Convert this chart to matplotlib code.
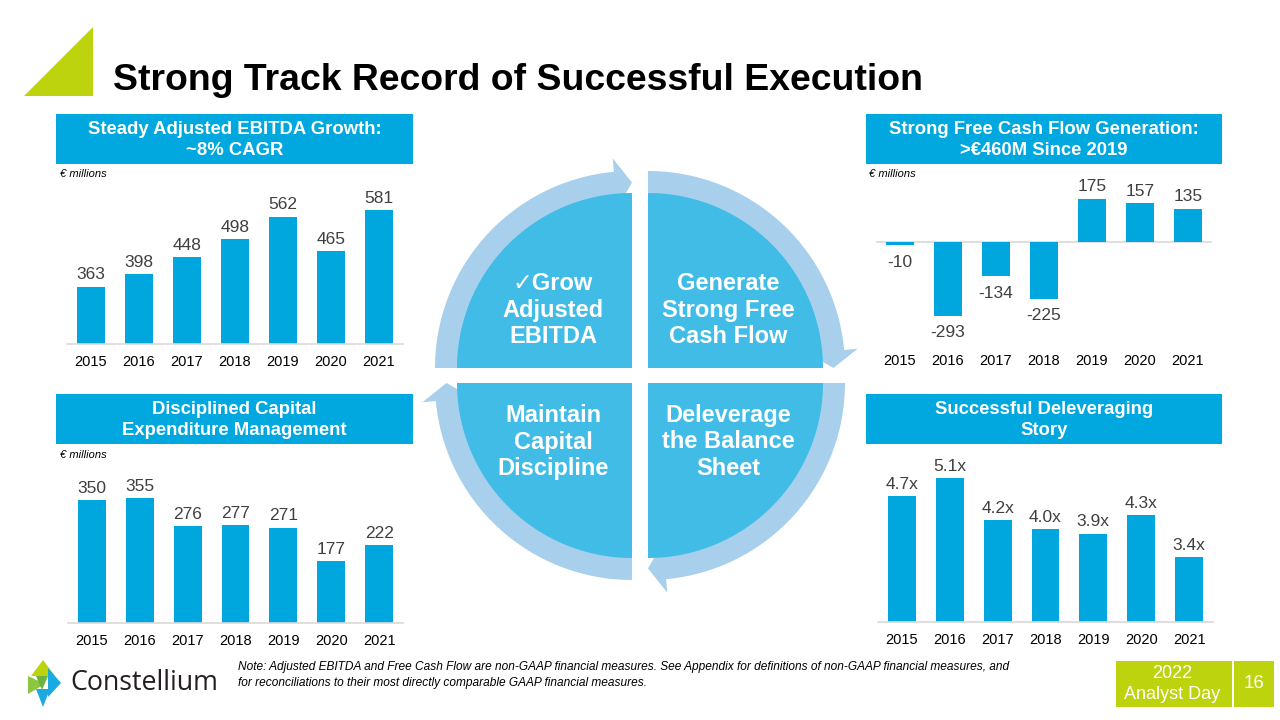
import numpy as np
import matplotlib
matplotlib.use("Agg")
import matplotlib.pyplot as plt
from matplotlib.patches import Polygon, Rectangle

plt.rcParams['font.family'] = ['Liberation Sans', 'DejaVu Sans']

# data
years = ['2015', '2016', '2017', '2018', '2019', '2020', '2021']
ebitda = [363, 398, 448, 498, 562, 465, 581]
fcf = [-10, -293, -134, -225, 175, 157, 135]
capex = [350, 355, 276, 277, 271, 177, 222]
leverage = [4.7, 5.1, 4.2, 4.0, 3.9, 4.3, 3.4]

BLUE = '#00A6DE'
HEAD = '#00A8DF'
QUAD = '#41BCE6'
RING = '#A8CFEC'
LIME = '#BCD30E'
GRAY = '#404040'

W, H = 1280, 720
fig = plt.figure(figsize=(12.8, 7.2), dpi=100)

# background axes in pixel coordinates (y down)
bg = fig.add_axes([0, 0, 1, 1])
bg.set_xlim(0, W)
bg.set_ylim(H, 0)
bg.axis('off')


def px_axes(l, t, r, b):
    return fig.add_axes([l / W, 1 - b / H, (r - l) / W, (b - t) / H])


# title and green triangle
bg.add_patch(Polygon([(24, 96), (93, 27), (93, 96)], closed=True, color=LIME, lw=0))
bg.text(113, 81, 'Strong Track Record of Successful Execution', fontsize=26.9,
        fontweight='bold', color='black', va='center', ha='left')


def header(l, t, r, b, txt):
    bg.add_patch(Rectangle((l, t), r - l, b - t, color=HEAD, lw=0))
    bg.text((l + r) / 2, (t + b) / 2 + 1, txt, color='white', fontsize=13.3,
            fontweight='bold', ha='center', va='center', linespacing=1.35)


header(56, 114, 413, 164, 'Steady Adjusted EBITDA Growth:\n~8% CAGR')
header(866, 114, 1222, 164, 'Strong Free Cash Flow Generation:\n>€460M Since 2019')
header(56, 394, 413, 444, 'Disciplined Capital\nExpenditure Management')
header(866, 394, 1222, 444, 'Successful Deleveraging\nStory')

for xx, yy in [(60, 174), (869, 174), (60, 455)]:
    bg.text(xx, yy, '€ millions', fontsize=8, style='italic', color='black',
            va='center', ha='left')


def bar_chart(ax, vals, ymin, ymax, fmt, zero=None):
    x = np.arange(len(vals))
    ax.bar(x, vals, width=0.58, color=BLUE, zorder=2)
    ax.set_xlim(-0.5, len(vals) - 0.5)
    ax.set_ylim(ymin, ymax)
    ax.set_xticks(x)
    ax.set_xticklabels(years, fontsize=10.5, color='black')
    ax.tick_params(axis='x', length=0, pad=8)
    ax.set_yticks([])
    for s in ['top', 'right', 'left']:
        ax.spines[s].set_visible(False)
    ax.patch.set_visible(False)
    if zero is None:
        ax.spines['bottom'].set_color('#D9D9D9')
        ax.spines['bottom'].set_linewidth(1.2)
    else:
        ax.spines['bottom'].set_visible(False)
        ax.axhline(zero, color='#D9D9D9', lw=1.2, zorder=1)
    for xi, v in zip(x, vals):
        if v >= 0:
            ax.annotate(fmt(v), (xi, v), xytext=(0, 3), textcoords='offset points',
                        ha='center', va='bottom', fontsize=12.5, color=GRAY)
        else:
            ax.annotate(fmt(v), (xi, v), xytext=(0, -7), textcoords='offset points',
                        ha='center', va='top', fontsize=12.5, color=GRAY)


a1 = px_axes(67, 180, 403, 344)
bar_chart(a1, ebitda, 200, 200 + 164 / 0.352, lambda v: f'{v}')

a2 = px_axes(876, 175, 1212, 343)
bar_chart(a2, fcf, -(343 - 242.3) / 0.25, (242.3 - 175) / 0.25, lambda v: f'{v}', zero=0)

a3 = px_axes(68, 465, 403, 623)
bar_chart(a3, capex, 0, 158 / 0.352, lambda v: f'{v}')

a4 = px_axes(878, 450, 1213, 622)
bar_chart(a4, leverage, 2.0, 2.0 + 172 / 46.5, lambda v: f'{v:.1f}x')


# central cycle diagram
def pt(cx, cy, r, a):
    t = np.radians(a)
    return cx + r * np.cos(t), cy - r * np.sin(t)


def quadrant(cx, cy, a0, a1, r=175):
    angs = np.linspace(a0, a1, 60)
    pts = [(cx, cy)] + [pt(cx, cy, r, a) for a in angs]
    bg.add_patch(Polygon(pts, closed=True, color=QUAD, lw=0, zorder=3))


def ring_arrow(cx, cy, s, e, r_in=174, r_out=197, hw=25, hl=17):
    rm = (r_in + r_out) / 2
    hb = e + np.degrees(hl / rm)  # clockwise: angles decrease
    angs = np.linspace(s, hb, 60)
    outer = [pt(cx, cy, r_out, a) for a in angs]
    inner = [pt(cx, cy, r_in, a) for a in angs[::-1]]
    head = [pt(cx, cy, rm + hw, hb), pt(cx, cy, rm, e), pt(cx, cy, rm - hw, hb)]
    bg.add_patch(Polygon(outer + head + inner, closed=True, color=RING, lw=0, zorder=2))


centers = [(632, 368, 90, 180), (648, 368, 0, 90), (648, 383, -90, 0), (632, 383, -180, -90)]
for cx, cy, a0, a1_ in centers:
    quadrant(cx, cy, a0, a1_)

ring_arrow(632, 368, 180, 90)
ring_arrow(648, 368, 90, 0)
ring_arrow(648, 383, 0, -90)
ring_arrow(632, 383, -90, -180)

qfont = dict(color='white', fontsize=17, fontweight='bold', ha='center',
             va='center', linespacing=1.2, zorder=4)
bg.text(553, 310, '✓Grow\nAdjusted\nEBITDA', **qfont)
bg.text(728, 310, 'Generate\nStrong Free\nCash Flow', **qfont)
bg.text(553, 442, 'Maintain\nCapital\nDiscipline', **qfont)
bg.text(728, 442, 'Deleverage\nthe Balance\nSheet', **qfont)

# footer: logo
GREEN2 = '#8DC63F'
bg.add_patch(Polygon([(43, 660), (31, 676), (55, 676)], closed=True, color=LIME, lw=0))
bg.add_patch(Polygon([(48, 668), (61, 683), (48, 697)], closed=True, color='#1BA9E1', lw=0))
bg.add_patch(Polygon([(28, 676), (45, 684), (28, 694)], closed=True, color=GREEN2, lw=0))
bg.add_patch(Polygon([(36, 689), (50, 689), (43, 707)], closed=True, color='#1BA9E1', lw=0))
bg.add_patch(Polygon([(36, 676), (48, 676), (42, 690)], closed=True, color='#6DB33F', lw=0))
bg.text(70, 683, 'Constellium', fontsize=19.3, family='Open Sans', color='#231F20',
        va='center', ha='left')

bg.text(238, 675, 'Note: Adjusted EBITDA and Free Cash Flow are non-GAAP financial measures. '
        'See Appendix for definitions of non-GAAP financial measures, and\n'
        'for reconciliations to their most directly comparable GAAP financial measures.',
        fontsize=8.6, style='italic', color='black', va='center', ha='left', linespacing=1.5)

# footer badge
bg.add_patch(Rectangle((1116, 661), 116, 46, color=LIME, lw=0))
bg.add_patch(Rectangle((1234, 661), 40, 46, color=LIME, lw=0))
bg.text(1172, 684, '2022\nAnalyst Day', color='white', fontsize=13, ha='center',
        va='center', linespacing=1.3)
bg.text(1254, 684, '16', color='white', fontsize=13.5, ha='center', va='center')

fig.savefig('out.png', dpi=100)
